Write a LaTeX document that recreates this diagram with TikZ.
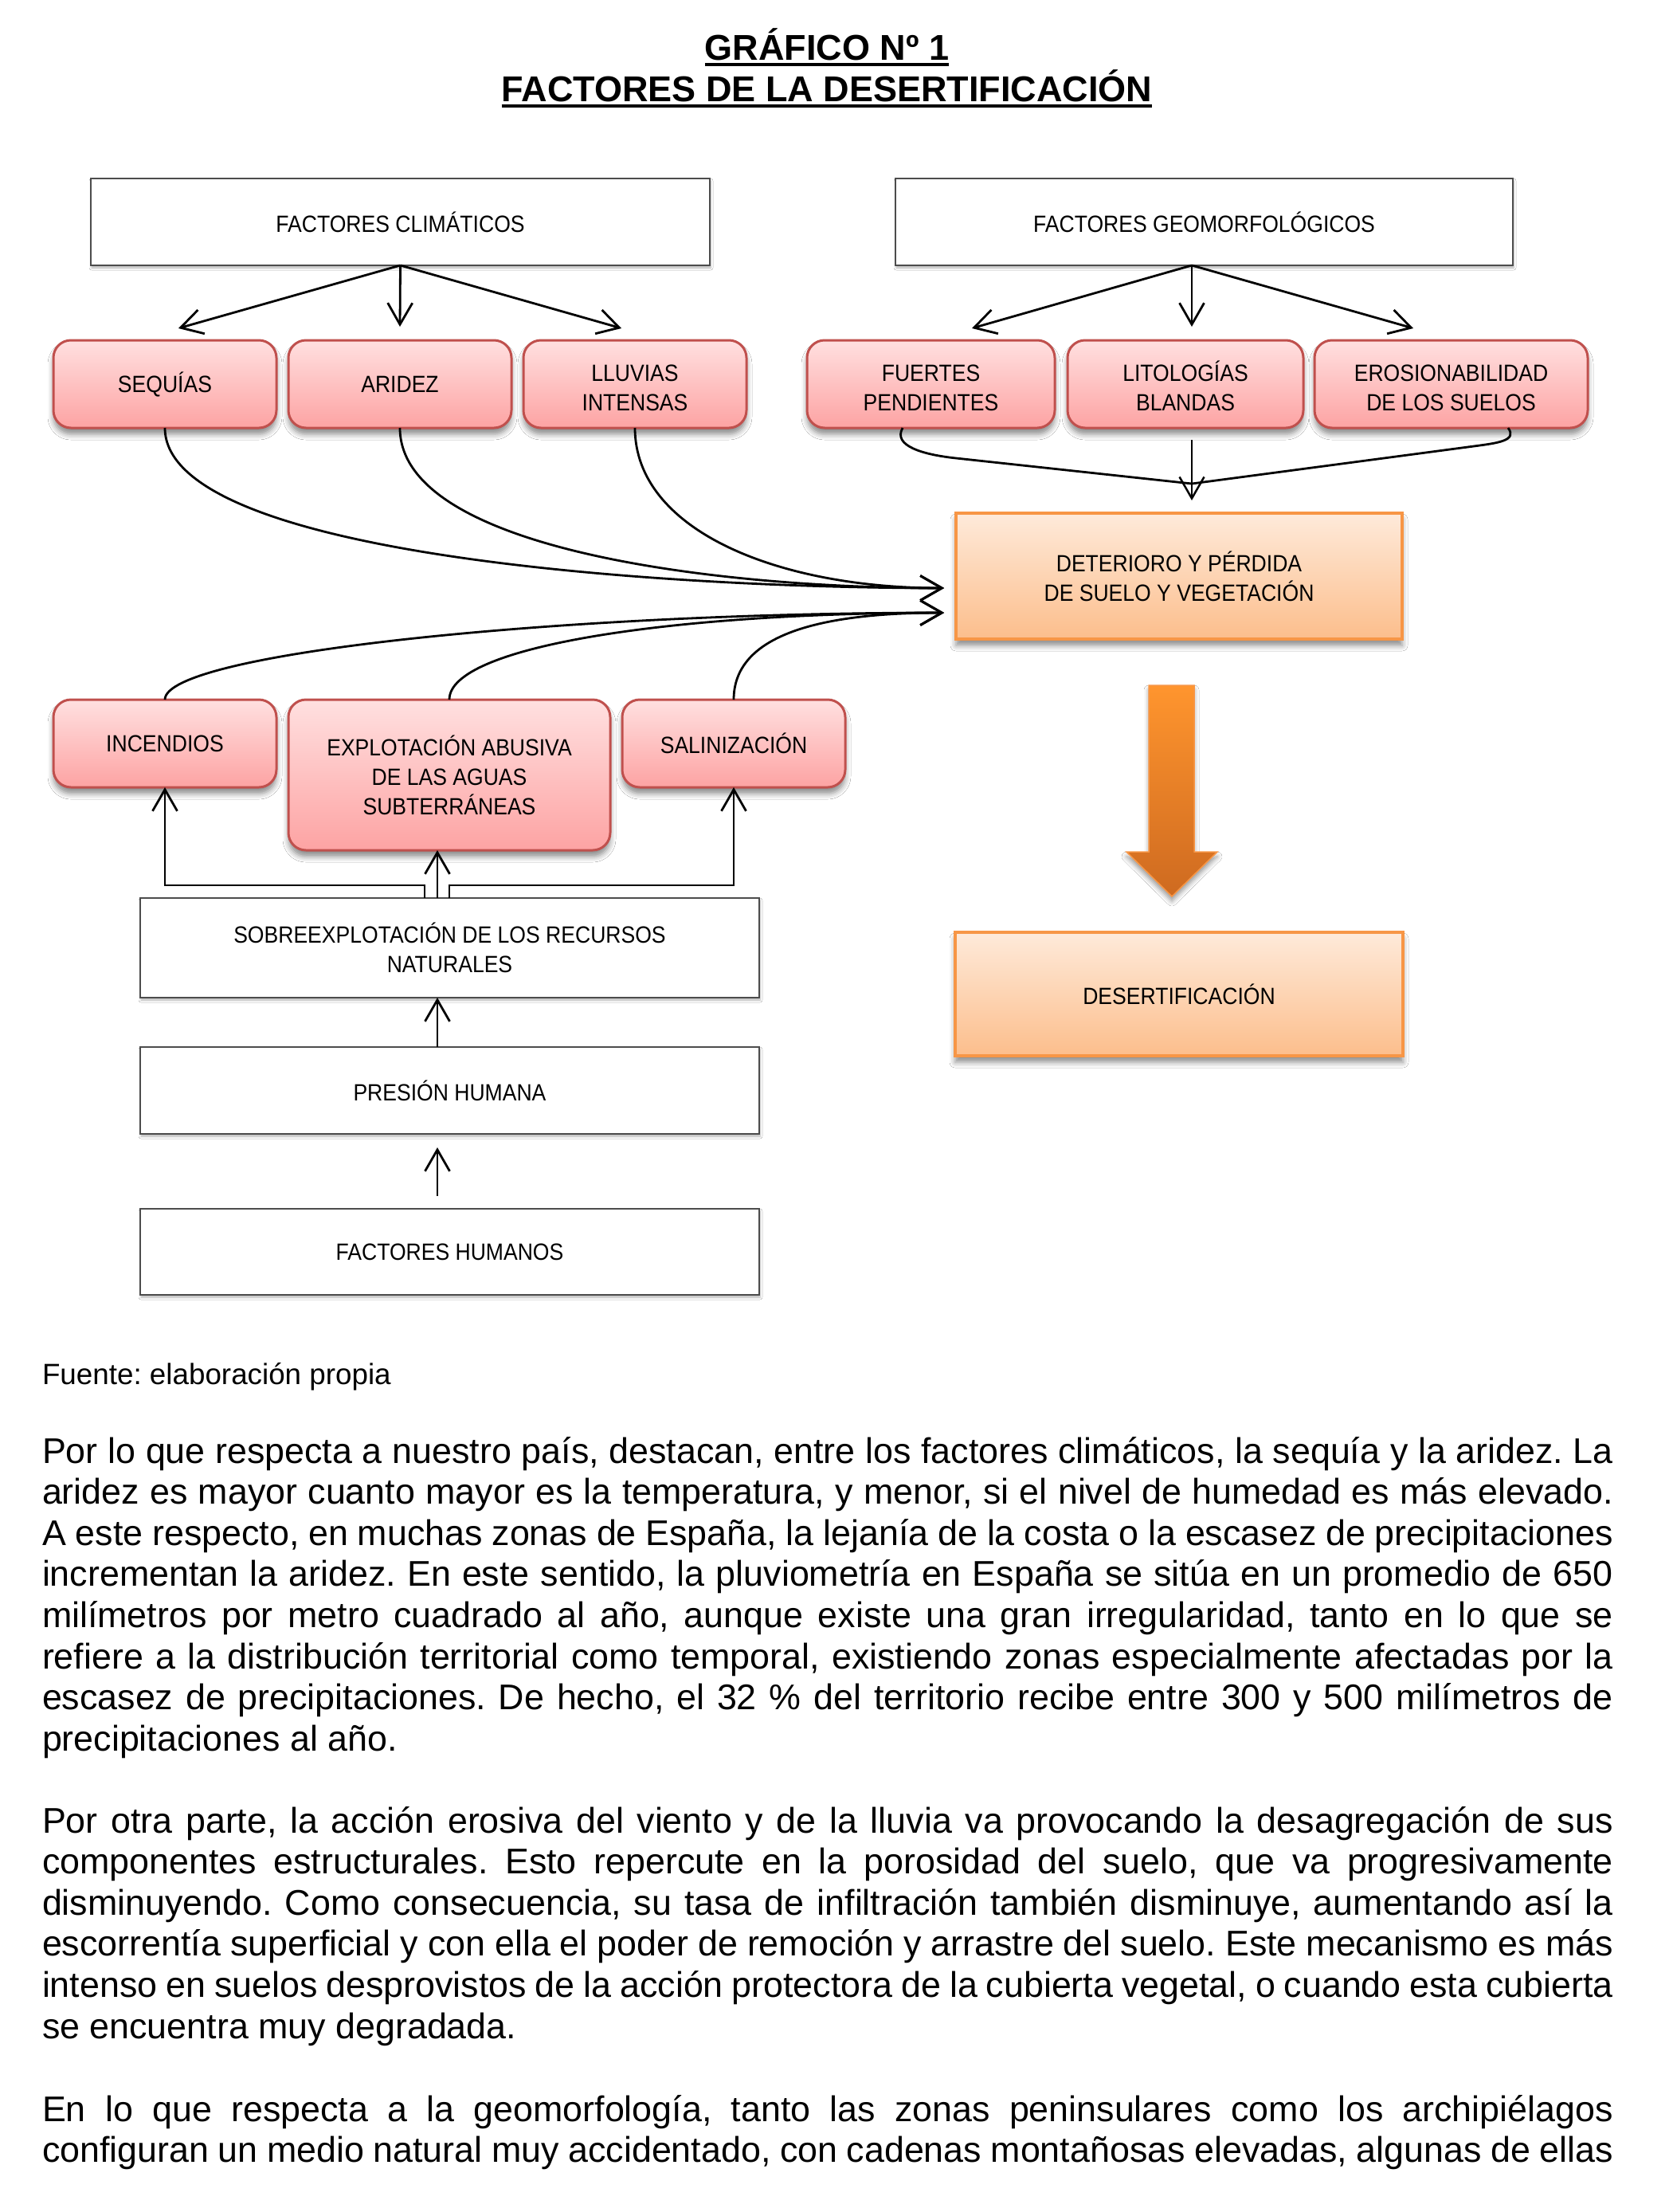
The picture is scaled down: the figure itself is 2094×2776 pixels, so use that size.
\documentclass[tikz,border=0pt]{standalone}
\usepackage{fontspec}
\setmainfont{Liberation Sans}
\newfontfamily\boxfont[FakeStretch=0.9]{Liberation Sans}
\usetikzlibrary{arrows.meta,shadows.blur,calc}
\definecolor{redB}{RGB}{192,80,77}
\definecolor{redT}{RGB}{255,224,224}
\definecolor{redBt}{RGB}{253,163,163}
\definecolor{orB}{RGB}{247,150,70}
\definecolor{orT}{RGB}{254,234,218}
\definecolor{orBt}{RGB}{252,190,140}
\definecolor{arT}{RGB}{255,149,46}
\definecolor{arB}{RGB}{206,106,32}
\setlength\parindent{0pt}
\frenchspacing
\newcommand\lowr{\rule{0pt}{31pt}}
\begin{document}
\begin{tikzpicture}[x=1pt,y=-1pt,
  every node/.style={inner sep=0pt, outer sep=0pt},
  btext/.style={font=\boxfont\fontsize{29.5}{37}\selectfont, align=center},
  plainbox/.style={btext, draw=black!70, line width=1.8pt, fill=white,
    blur shadow={shadow xshift=1pt, shadow yshift=-3pt, shadow blur radius=3pt, shadow opacity=30},
    minimum width=777pt},
  redbox/.style={btext, draw=redB, line width=3pt, rounded corners=22pt,
    top color=redT, bottom color=redBt,
    blur shadow={shadow xshift=0pt, shadow yshift=-8pt, shadow blur radius=7pt, shadow opacity=45},
    minimum height=110pt},
  orbox/.style={btext, draw=orB, line width=3.5pt, top color=orT, bottom color=orBt,
    blur shadow={shadow xshift=0pt, shadow yshift=-8pt, shadow blur radius=7pt, shadow opacity=45},
    minimum width=560pt},
  conn/.style={line width=2.8pt, -{Straight Barb[length=27pt,width=31pt]}},
  link/.style={line width=2.8pt},
  body/.style={anchor=north west, text width=1972pt, align=justify,
    font=\fontsize{44.8}{51.6}\selectfont}
]
\useasboundingbox (0,0) rectangle (2094,2776);
\fill[white] (0,0) rectangle (2094,2776);

% Title
\node[font=\fontsize{45}{51}\selectfont\bfseries, anchor=base] (t1) at (1038,75) {GRÁFICO Nº 1};
\node[font=\fontsize{45}{51}\selectfont\bfseries, anchor=base] (t2) at (1038,127) {FACTORES DE LA DESERTIFICACIÓN};
\draw[line width=3.7pt] ([yshift=-6pt]t1.base west) -- ([yshift=-6pt]t1.base east);
\draw[line width=3.7pt] ([yshift=-6pt]t2.base west) -- ([yshift=-6pt]t2.base east);

% Boxes
\node[plainbox, minimum height=109pt] (clim) at (502.5,278.5) {FACTORES CLIMÁTICOS};
\node[plainbox, minimum width=775pt, minimum height=109pt] (geo) at (1511.5,278.5) {FACTORES GEOMORFOLÓGICOS};

\node[redbox, minimum width=280pt] (seq) at (207,482) {SEQUÍAS};
\node[redbox, minimum width=280pt] (ari) at (502,482) {ARIDEZ};
\node[redbox, minimum width=280pt] (llu) at (797,482) {\lowr LLUVIAS\\INTENSAS};
\node[redbox, minimum width=311pt] (fue) at (1168.5,482) {\lowr FUERTES\\PENDIENTES};
\node[redbox, minimum width=296pt] (lit) at (1488,482) {\lowr LITOLOGÍAS\\BLANDAS};
\node[redbox, minimum width=343pt] (ero) at (1821.5,482) {\lowr EROSIONABILIDAD\\DE LOS SUELOS};

\node[orbox, minimum height=158pt] (det) at (1480,723) {DETERIORO Y PÉRDIDA\\DE SUELO Y VEGETACIÓN};
\node[orbox, minimum width=562pt, minimum height=155pt] (des) at (1480,1247.5) {DESERTIFICACIÓN};

\node[redbox, minimum width=280pt] (inc) at (207,933) {INCENDIOS};
\node[redbox, minimum width=404pt, minimum height=189pt] (exp) at (564,972.5) {EXPLOTACIÓN ABUSIVA\\DE LAS AGUAS\\SUBTERRÁNEAS};
\node[redbox, minimum width=280pt] (sal) at (921,933) {SALINIZACIÓN};

\node[plainbox, minimum height=125pt] (sob) at (564.5,1189.5) {SOBREEXPLOTACIÓN DE LOS RECURSOS\\NATURALES};
\node[plainbox, minimum height=109pt] (pre) at (564.5,1368.5) {PRESIÓN HUMANA};
\node[plainbox, minimum height=108pt] (fh) at (564.5,1571) {FACTORES HUMANOS};

% Arrows from climatic factors
\coordinate (seqT) at ($(seq.north)+(17,-15)$);
\coordinate (ariT) at ($(ari.north)+(0,-17)$);
\coordinate (lluT) at ($(llu.north)+(-17,-15)$);
\draw[conn] (clim.south) -- (seqT);
\draw[conn] (clim.south) -- (ariT);
\draw[conn] (clim.south) -- (lluT);

% Arrows from geomorphological factors
\coordinate (geoS) at ($(geo.south)+(-15.5,0)$);
\coordinate (fueT) at ($(fue.north)+(51.5,-15)$);
\coordinate (litT) at ($(lit.north)+(8,-17)$);
\coordinate (eroT) at ($(ero.north)+(-47.5,-15)$);
\draw[conn] (geoS) -- (fueT);
\draw[conn] (geoS) -- (litT);
\draw[conn] (geoS) -- (eroT);

% Converging to deterioro from geo boxes
\coordinate (gm) at ($(det.north)+(16,-37)$);
\coordinate (fueS) at ($(fue.south)+(-35.5,0)$);
\coordinate (eroS) at ($(ero.south)+(71.5,0)$);
\draw[link] (fueS) .. controls ($(fueS)+(-13,23)$) and ($(fueS)+(27,33.7)$) .. ($(fueS)+(67,38)$) -- (gm);
\draw[link] (eroS) .. controls ($(eroS)+(12,16)$) and ($(eroS)+(-13,19)$) .. ($(eroS)+(-43,23)$) -- (gm);
\draw[conn, line width=2.5pt] ($(lit.south)+(8,15)$) -- ($(det.north)+(16,-16)$);

% Curves into deterioro
\coordinate (dA) at ($(det.west)+(-15,15)$);
\coordinate (dB) at ($(det.west)+(-15,46)$);
\draw[conn] (seq.south) .. controls ($(seq.south)+(0,163)$) and ($(dA)+(-335,0)$) .. (dA);
\draw[conn] (ari.south) .. controls ($(ari.south)+(0,153)$) and ($(dA)+(-285,0)$) .. (dA);
\draw[conn] (llu.south) .. controls ($(llu.south)+(0,128)$) and ($(dA)+(-210,0)$) .. (dA);
\draw[conn] (inc.north) .. controls ($(inc.north)+(0,-58)$) and ($(dB)+(-485,0)$) .. (dB);
\draw[conn] (exp.north) .. controls ($(exp.north)+(0,-68)$) and ($(dB)+(-335,0)$) .. (dB);
\draw[conn] (sal.north) .. controls ($(sal.north)+(0,-78)$) and ($(dB)+(-165,0)$) .. (dB);

% Big orange arrow
\draw[draw=orB, line width=1.5pt, top color=arT, bottom color=arB,
  blur shadow={shadow xshift=0pt, shadow yshift=-6pt, shadow blur radius=6pt, shadow opacity=40}]
  (1442,860) -- (1499,860) -- (1499,1069) -- (1528,1069) -- (1471,1125) -- (1414,1069) -- (1442,1069) -- cycle;

% Human factors arrows
\coordinate (sL) at ($(sob.north)+(-31.5,0)$);
\coordinate (sM) at ($(sob.north)+(-15.5,0)$);
\coordinate (sR) at ($(sob.north)+(-0.5,0)$);
\draw[conn] (sL) -- ++(0,-16) -| (inc.south);
\draw[conn] (sR) -- ++(0,-16) -| (sal.south);
\draw[conn] (sM) -- (sM |- exp.south);
\draw[conn] ($(pre.north)+(-15.5,0)$) -- ($(sob.south)+(-15.5,0)$);
\draw[conn] ($(fh.north)+(-15.5,-16)$) -- ($(pre.south)+(-15.5,17)$);

% Source
\node[font=\fontsize{36.8}{44}\selectfont, anchor=base west] (src) at (53,1737) {Fuente: elaboración propia};

% Body text
\node[body] (p1) at (53,1799.9) {\tolerance=10000\hyphenpenalty=10000\strut Por lo que respecta a nuestro país, destacan, entre los factores climáticos, la sequía y la aridez. La\linebreak
aridez es mayor cuanto mayor es la temperatura, y menor, si el nivel de humedad es más elevado.\linebreak
A este respecto, en muchas zonas de España, la lejanía de la costa o la escasez de precipitaciones\linebreak
incrementan la aridez. En este sentido, la pluviometría en España se sitúa en un promedio de 650\linebreak
milímetros por metro cuadrado al año, aunque existe una gran irregularidad, tanto en lo que se\linebreak
refiere a la distribución territorial como temporal, existiendo zonas especialmente afectadas por la\linebreak
escasez de precipitaciones. De hecho, el 32~\% del territorio recibe entre 300 y 500 milímetros de\linebreak
precipitaciones al año.};

\node[body] (p2) at (53,2263.9) {\tolerance=10000\hyphenpenalty=10000\strut Por otra parte, la acción erosiva del viento y de la lluvia va provocando la desagregación de sus\linebreak
componentes estructurales. Esto repercute en la porosidad del suelo, que va progresivamente\linebreak
disminuyendo. Como consecuencia, su tasa de infiltración también disminuye, aumentando así la\linebreak
escorrentía superficial y con ella el poder de remoción y arrastre del suelo. Este mecanismo es más\linebreak
intenso en suelos desprovistos de la acción protectora de la cubierta vegetal, o cuando esta cubierta\linebreak
se encuentra muy degradada.};

\node[body] (p3) at (53,2625.9) {\tolerance=10000\hyphenpenalty=10000\parfillskip=0pt\strut En lo que respecta a la geomorfología, tanto las zonas peninsulares como los archipiélagos\linebreak
configuran un medio natural muy accidentado, con cadenas montañosas elevadas, algunas de ellas\par};
\end{tikzpicture}
\end{document}
